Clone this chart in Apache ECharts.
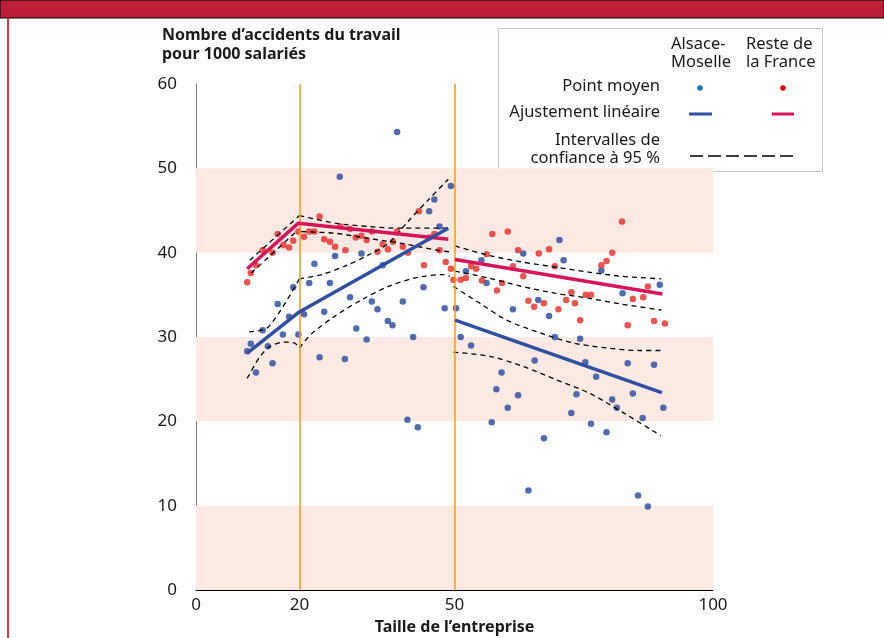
<!DOCTYPE html>
<html lang="fr">
<head>
<meta charset="UTF-8">
<title>Accidents du travail et taille de l'entreprise</title>
<style>
  html, body { margin: 0; padding: 0; background: #fff; }
  #chart { width: 884px; height: 638px; }
</style>
</head>
<body>
<div id="chart"></div>
<script src="https://cdn.jsdelivr.net/npm/echarts@6/dist/echarts.min.js"></script>
<script>
// points moyens, Reste de la France
var redPoints = [
  [9.9,36.5],[10.6,37.6],[11.6,38.5],[12.9,40.3],[14.8,40.0],[15.8,42.2],[16.9,40.9],[18.0,40.6],
  [18.8,41.4],[19.8,42.5],[20.9,41.9],[21.9,42.5],[22.9,42.5],[23.9,44.3],[24.8,41.6],[25.9,41.3],
  [26.9,40.7],[27.9,43.1],[28.9,40.3],[29.8,42.8],[30.9,41.8],[32.0,42.0],[33.0,41.5],[34.0,42.5],
  [35.1,40.1],[36.1,41.0],[37.1,40.4],[38.1,41.3],[38.9,42.5],[40.0,40.7],[41.0,40.0],[43.1,44.9],
  [44.1,38.5],[45.1,41.8],[46.1,42.2],[47.1,40.3],[48.3,38.9],[49.3,38.1],[49.8,36.8],
  [51.2,36.8],[52.2,37.0],[53.2,38.4],[54.2,38.1],[55.3,36.7],[56.2,39.8],[57.3,42.2],[58.2,35.5],
  [59.2,36.4],[60.3,42.5],[61.3,38.4],[62.3,40.3],[63.3,37.2],[64.3,34.3],[65.4,33.6],[66.3,39.9],
  [67.3,34.0],[68.3,40.4],[69.4,38.4],[70.1,33.3],[71.6,34.4],[72.6,35.3],[73.3,34.0],[74.3,32.0],
  [75.4,35.0],[76.4,35.0],[78.4,38.5],[79.4,39.0],[80.5,40.0],[82.4,43.7],[83.5,31.4],[84.5,34.5],
  [86.5,34.7],[87.4,36.0],[88.6,31.9],[90.7,31.6]
];
// points moyens, Alsace-Moselle
var bluePoints = [
  [9.9,28.3],[10.6,29.2],[11.6,25.8],[12.9,30.8],[13.9,28.9],[14.8,26.9],[15.8,33.9],[16.8,30.3],
  [18.0,32.4],[18.8,35.9],[19.8,30.3],[20.9,32.7],[21.9,36.4],[22.9,38.7],[23.9,27.6],[24.8,33.0],
  [25.9,36.4],[26.9,39.6],[27.8,49.0],[28.8,27.4],[29.8,34.7],[31.0,31.0],[32.0,39.9],[33.0,29.7],
  [34.0,34.2],[35.1,33.3],[36.1,38.5],[37.1,31.9],[38.0,31.4],[38.9,54.3],[40.0,34.2],[40.9,20.2],
  [42.0,30.0],[42.9,19.3],[44.0,35.9],[45.1,44.9],[46.1,46.3],[47.1,43.1],[48.1,33.4],[49.3,47.9],
  [50.3,33.4],[51.2,30.0],[52.2,37.8],[53.2,29.0],[55.2,39.1],[56.2,36.4],[57.2,19.9],[58.1,23.8],
  [59.1,25.8],[60.3,21.6],[61.3,33.3],[62.3,23.1],[63.3,39.9],[64.3,11.8],[65.5,27.2],[66.2,34.4],
  [67.3,18.0],[68.3,32.5],[69.4,30.0],[70.3,41.5],[71.1,39.1],[72.6,21.0],[73.6,23.2],[74.3,29.8],
  [75.3,27.0],[76.4,19.7],[77.4,25.3],[78.4,37.9],[79.4,18.7],[80.5,22.6],[81.4,21.6],[82.5,35.2],
  [83.5,26.9],[84.5,23.3],[85.5,11.2],[86.4,20.4],[87.4,9.9],[88.6,26.7],[89.7,36.2],[90.4,21.6]
];

// ajustements lineaires (par tranche)
var redFitA = [[9.9,38.1],[19.8,43.5],[48.8,41.6]];
var redFitB = [[50.1,39.2],[90.2,35.1]];
var blueFitA = [[9.9,28.1],[19.8,32.9],[48.8,42.9]];
var blueFitB = [[50.1,32.0],[90.1,23.4]];

// intervalles de confiance a 95 %
var redCiUpA = [[10.4,39.1],[20.0,44.4]];
var redCiLowA = [[10.7,37.6],[19.4,42.5]];
var redCiUpB = [[20.0,44.4],[26.9,43.5],[33.3,43.1],[39.8,42.9],[48.8,42.9]];
var redCiLowB = [[20.4,42.5],[26.9,42.3],[33.3,41.7],[39.8,41.1],[46.5,40.3],[49.1,40.1]];
var redCiUpC = [[50.1,40.8],[56.5,39.7],[63.0,38.9],[69.4,38.3],[75.9,37.7],[82.3,37.2],[90.0,36.9]];
var redCiLowC = [[50.1,37.8],[56.5,37.0],[63.0,36.0],[69.4,35.2],[75.9,34.6],[82.3,33.9],[90.0,33.2]];
var blueCiUpA = [[10.3,30.6],[14.0,31.2],[20.0,36.9]];
var blueCiLowA = [[9.9,25.1],[12.4,27.7],[14.4,28.9],[17.0,29.4],[19.0,29.3],[20.0,28.7]];
var blueCiUpB = [[20.0,36.9],[24.3,37.4],[28.8,38.4],[33.3,39.7],[37.2,41.1],[41.0,43.7],[45.0,46.3],[48.8,48.7]];
var blueCiLowB = [[20.0,28.7],[22.4,30.4],[26.9,32.5],[32.0,34.4],[37.2,36.0],[42.4,37.0],[47.5,37.4],[49.1,37.2]];
var blueCiUpC = [[49.8,36.0],[54.9,34.0],[60.1,32.0],[66.5,30.5],[72.9,29.3],[79.4,28.7],[85.8,28.4],[89.9,28.4]];
var blueCiLowC = [[49.8,28.2],[56.9,27.7],[63.3,26.5],[69.8,24.9],[76.2,23.3],[82.7,21.0],[89.9,18.3]];

var xTickLabels = [0, 20, 50, 100];
var splitLines = [20, 50];
var pinkBands = [[0,10],[20,30],[40,50]];

var FONT = '"Noto Sans", "Open Sans", sans-serif';
var RED_DOT = '#e32b26';
var BLUE_DOT = '#26479a';
var RED_LINE = '#d5145a';
var BLUE_LINE = '#2f4fa2';
var LEG_FONT = '16.5px ' + FONT;

function ciSeries(data) {
  return {
    type: 'line',
    data: data,
    symbol: 'none',
    smooth: 0.3,
    silent: true,
    z: 4,
    lineStyle: { color: '#000', width: 1.3, type: [5, 4] }
  };
}

function fitSeries(data, color) {
  return {
    type: 'line',
    data: data,
    symbol: 'none',
    silent: true,
    z: 5,
    lineStyle: { color: color, width: 3.5, cap: 'butt' }
  };
}

var chart = echarts.init(document.getElementById('chart'));

var option = {
  animation: false,
  grid: { left: 196, right: 171, top: 84, bottom: 48, containLabel: false, outerBoundsMode: 'none' },
  xAxis: {
    type: 'value',
    min: 0,
    max: 100,
    interval: 10,
    name: 'Taille de l’entreprise',
    nameLocation: 'middle',
    nameGap: 29,
    nameTextStyle: { fontFamily: FONT, fontSize: 16, fontWeight: 'bold', color: '#1a1a1a' },
    axisLine: { lineStyle: { color: '#000', width: 1 } },
    axisTick: { show: false },
    splitLine: { show: false },
    axisLabel: {
      fontFamily: FONT, fontSize: 17, color: '#1a1a1a', margin: 7,
      formatter: function (v) { return xTickLabels.indexOf(v) >= 0 ? String(v) : ''; }
    }
  },
  yAxis: {
    type: 'value',
    min: 0,
    max: 60,
    interval: 10,
    name: 'Nombre d’accidents du travail\npour 1000 salariés',
    nameLocation: 'end',
    nameGap: 20,
    nameTextStyle: {
      fontFamily: FONT, fontSize: 16, fontWeight: 'bold', color: '#1a1a1a',
      align: 'left', verticalAlign: 'bottom', lineHeight: 19,
      padding: [0, 0, 0, -34]
    },
    axisLine: { show: true, lineStyle: { color: '#777', width: 1 } },
    axisTick: { show: false },
    splitLine: { show: false },
    axisLabel: { fontFamily: FONT, fontSize: 17, color: '#1a1a1a', margin: 19 }
  },
  series: [
    {
      type: 'scatter',
      data: bluePoints,
      symbolSize: 6.5,
      z: 3,
      itemStyle: { color: BLUE_DOT },
      markArea: {
        silent: true,
        itemStyle: { color: '#fde9e3' },
        data: pinkBands.map(function (b) { return [{ yAxis: b[0] }, { yAxis: b[1] }]; })
      },
      markLine: {
        silent: true,
        symbol: 'none',
        label: { show: false },
        lineStyle: { color: '#f39a1e', width: 1.5, type: 'solid' },
        data: splitLines.map(function (x) { return { xAxis: x }; })
      }
    },
    {
      type: 'scatter',
      data: redPoints,
      symbolSize: 6.5,
      z: 3,
      itemStyle: { color: RED_DOT }
    },
    ciSeries(redCiUpA), ciSeries(redCiLowA),
    ciSeries(redCiUpB), ciSeries(redCiLowB),
    ciSeries(redCiUpC), ciSeries(redCiLowC),
    ciSeries(blueCiUpA), ciSeries(blueCiLowA),
    ciSeries(blueCiUpB), ciSeries(blueCiLowB),
    ciSeries(blueCiUpC), ciSeries(blueCiLowC),
    fitSeries(redFitA, RED_LINE), fitSeries(redFitB, RED_LINE),
    fitSeries(blueFitA, BLUE_LINE), fitSeries(blueFitB, BLUE_LINE)
  ],
  graphic: [
    // bandeau rouge et bord gauche
    { type: 'rect', z: 10, shape: { x: 0, y: 0, width: 884, height: 18 }, style: { fill: '#bd1f38' } },
    { type: 'rect', z: 10, shape: { x: 7, y: 18, width: 2, height: 620 }, style: { fill: '#c93b53' } },
    // legende
    {
      type: 'group',
      z: 20,
      children: [
        { type: 'rect', shape: { x: 498.5, y: 28.5, width: 324, height: 143 },
          style: { fill: '#fff', stroke: '#c4c4c4', lineWidth: 1 } },
        { type: 'text', x: 671, y: 35, style: { text: 'Alsace-\nMoselle', font: LEG_FONT, fill: '#1a1a1a', lineHeight: 18 } },
        { type: 'text', x: 746, y: 35, style: { text: 'Reste de\nla France', font: LEG_FONT, fill: '#1a1a1a', lineHeight: 18 } },
        { type: 'text', x: 660, y: 86, style: { text: 'Point moyen', font: LEG_FONT, fill: '#1a1a1a', align: 'right', verticalAlign: 'middle' } },
        { type: 'text', x: 660, y: 112, style: { text: 'Ajustement linéaire', font: LEG_FONT, fill: '#1a1a1a', align: 'right', verticalAlign: 'middle' } },
        { type: 'text', x: 660, y: 149, style: { text: 'Intervalles de\nconfiance à 95 %', font: LEG_FONT, fill: '#1a1a1a', align: 'right', verticalAlign: 'middle', lineHeight: 18 } },
        { type: 'circle', shape: { cx: 700, cy: 88, r: 2.8 }, style: { fill: '#1f6fc0' } },
        { type: 'circle', shape: { cx: 783, cy: 88, r: 2.8 }, style: { fill: '#e30613' } },
        { type: 'line', shape: { x1: 689, y1: 114, x2: 712, y2: 114 }, style: { stroke: BLUE_LINE, lineWidth: 3 } },
        { type: 'line', shape: { x1: 772, y1: 114, x2: 794, y2: 114 }, style: { stroke: RED_LINE, lineWidth: 3 } },
        { type: 'line', shape: { x1: 690, y1: 156, x2: 794, y2: 156 }, style: { stroke: '#000', lineWidth: 1.5, lineDash: [13, 5] } }
      ]
    }
  ]
};

chart.setOption(option);

// petit prolongement de l'axe horizontal a gauche de l'axe vertical
var origin = chart.convertToPixel({ gridIndex: 0 }, [0, 0]);
chart.setOption({
  graphic: [
    { type: 'line', z: 6, shape: { x1: origin[0] - 10, y1: origin[1], x2: origin[0], y2: origin[1] },
      style: { stroke: '#000', lineWidth: 1 } }
  ]
});
</script>
</body>
</html>
